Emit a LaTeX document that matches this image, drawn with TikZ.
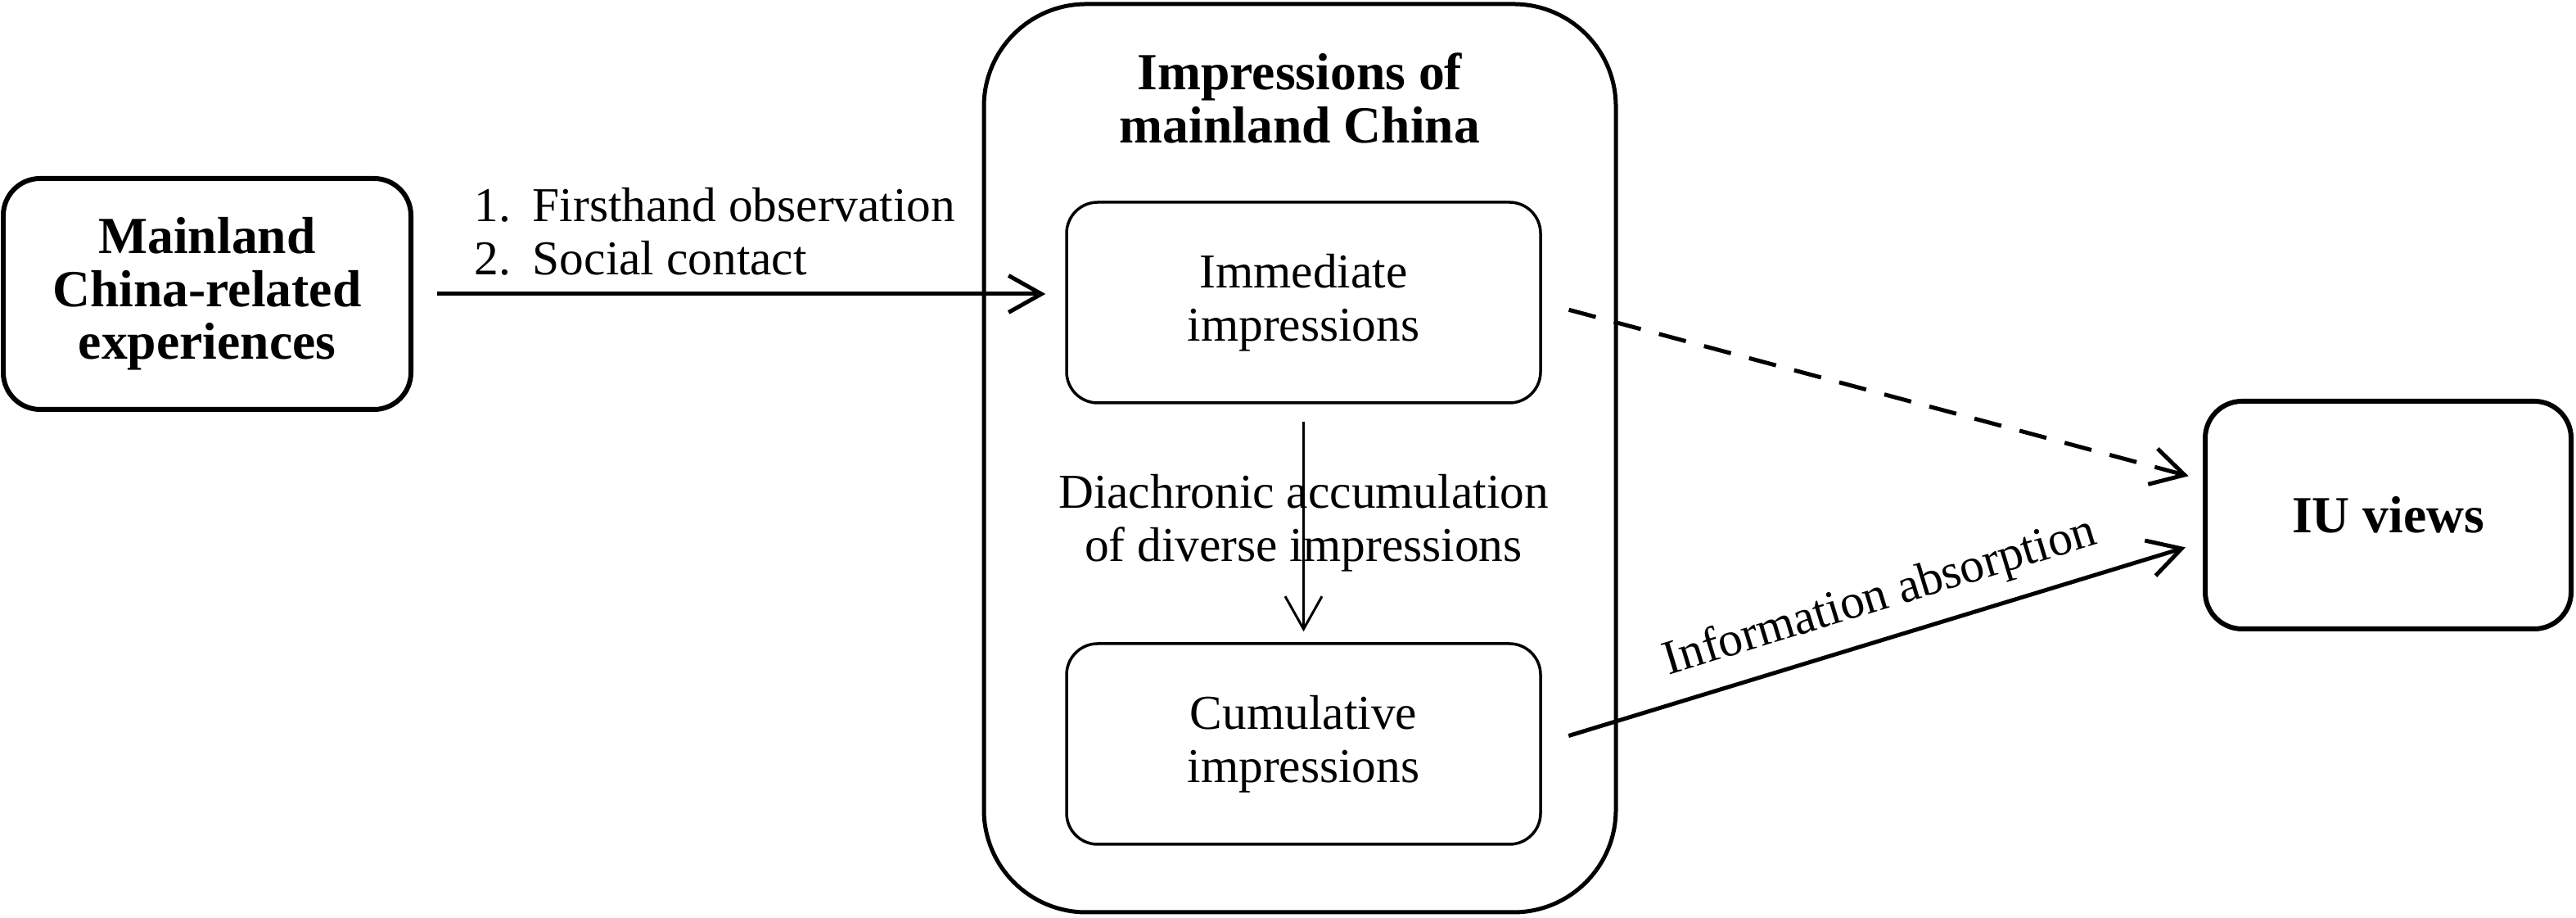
\documentclass[tikz,border=0pt]{standalone}
\usepackage{fontspec}
\setmainfont{Liberation Serif}
\usepackage{tikz}
\usetikzlibrary{arrows.meta, positioning}
\tikzset{
    bold-txt/.style={font=\fontsize{18.1}{18.4}\selectfont\bfseries},
    plain-txt/.style={font=\fontsize{16.9}{18.4}\selectfont},
    outer-box/.style={draw, rounded corners=0.45cm, line width=0.06cm, align=center, bold-txt},
    inner-box/.style={draw, rounded corners=0.38cm, line width=0.035cm, minimum width=5.79cm, minimum height=2.45cm, align=center, plain-txt},
    flow/.style={-{Straight Barb[length=0.4cm, width=0.45cm]}, line width=0.05cm}
}

\begin{document}
\begin{tikzpicture}
    \useasboundingbox (0,0) rectangle (31.47,11.21);

    \node (exp) [outer-box, minimum width=4.98cm, minimum height=2.82cm] at (2.53,7.62) {Mainland\\China-related\\experiences};
    \node (impr) [draw, rounded corners=1.25cm, line width=0.05cm, minimum width=7.72cm, minimum height=11.09cm] at (15.88,5.615) {};
    \node (title) [below=0.62cm of impr.north, inner sep=0pt, align=center, bold-txt] {Impressions of\\mainland China};
    \node (imm) [inner-box] at (15.925,7.515) {Immediate\\impressions};
    \node (cum) [inner-box] at (15.925,2.125) {Cumulative\\impressions};
    \node (iu) [outer-box, minimum width=4.47cm, minimum height=2.78cm] at (29.175,4.92) {IU views};

    \node (ways) [above right=0.22cm and 0.74cm of exp.east, inner sep=0pt, align=left, plain-txt] {\makebox[1.2em][l]{1.}Firsthand observation\\\makebox[1.2em][l]{2.}Social contact};

    \draw [flow, shorten <=0.29cm, shorten >=0.24cm] (exp.east) -- (exp.east -| imm.west);
    \draw [flow, line width=0.03cm, shorten <=0.21cm, shorten >=0.13cm] (imm.south) -- node (diach) [align=center, plain-txt] {Diachronic accumulation\\of diverse impressions} (cum.north);
    \draw [flow, dash pattern=on 0.34cm off 0.23cm, shorten <=0.34cm, shorten >=0.18cm] (imm.east) -- ([yshift=0.43cm]iu.west);
    \draw [flow, shorten <=0.34cm, shorten >=0.22cm] (cum.east) -- node (absorb) [pos=0.53, sloped, above, inner sep=0.2cm, plain-txt] {Information absorption} ([yshift=-0.33cm]iu.west);
\end{tikzpicture}
\end{document}
